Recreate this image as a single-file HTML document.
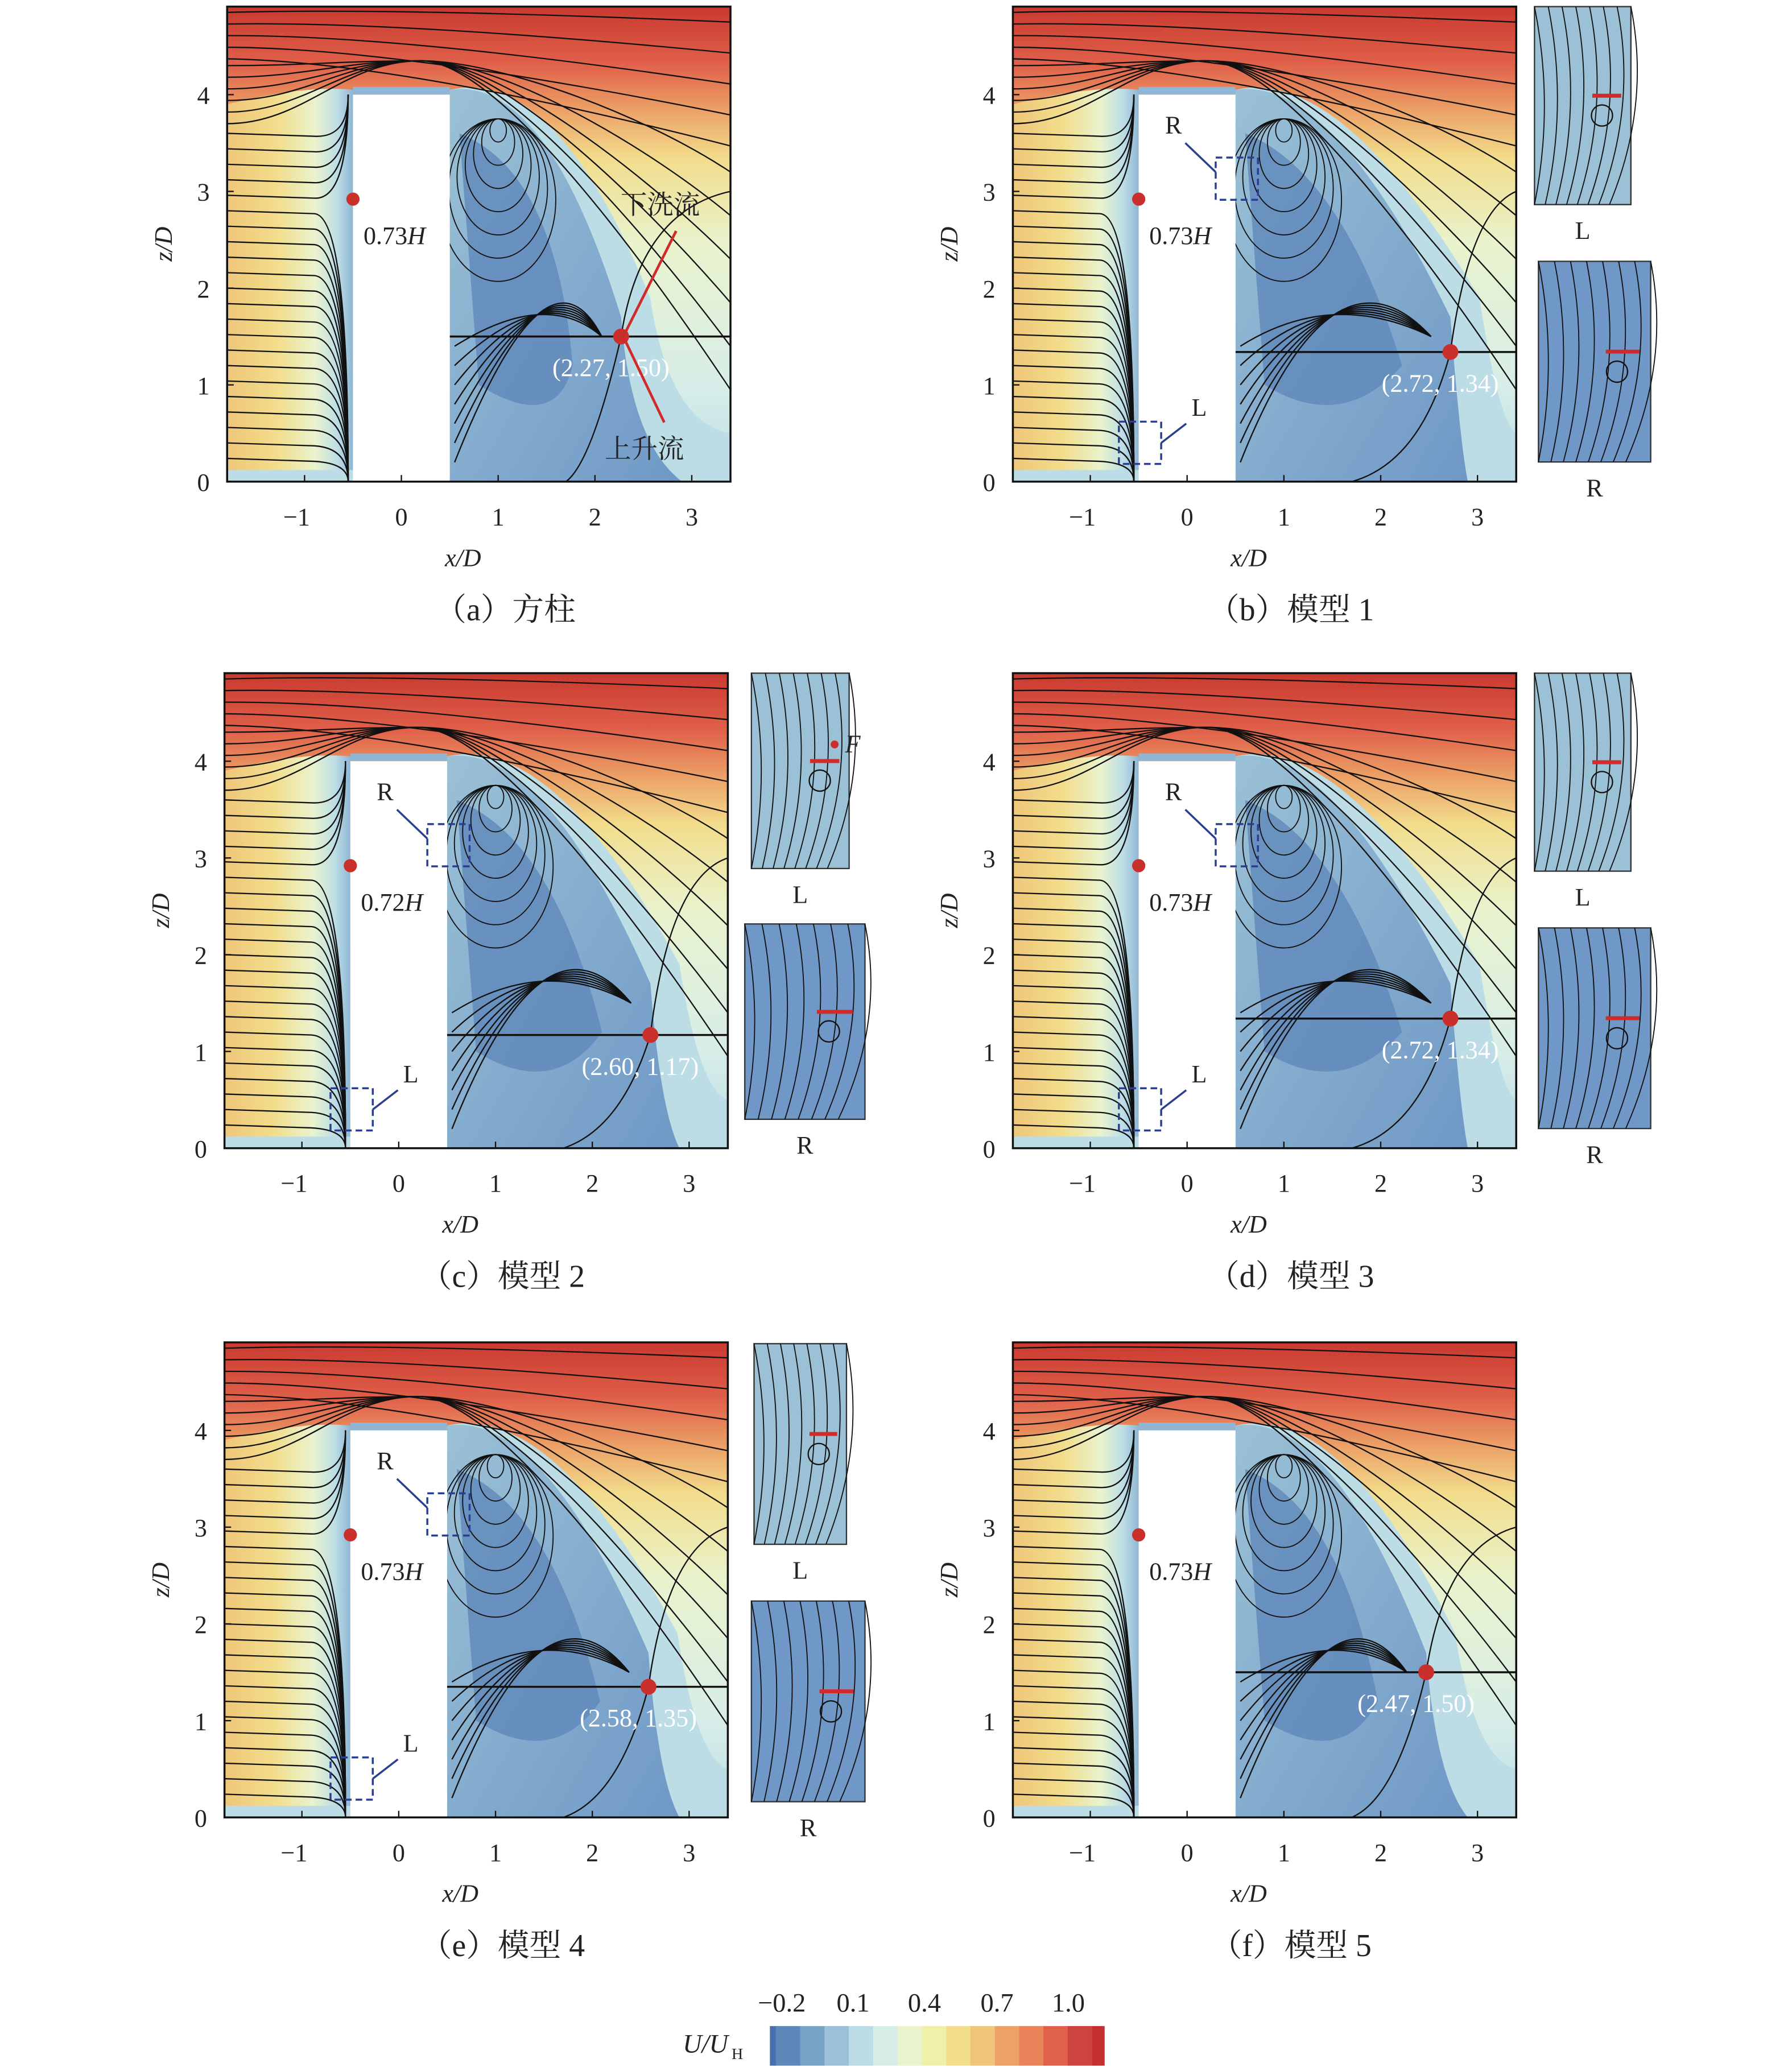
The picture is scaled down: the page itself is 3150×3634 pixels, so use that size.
<!DOCTYPE html>
<html><head><meta charset="utf-8"><style>
html,body{margin:0;padding:0;background:#fff}
svg{display:block}
text{font-family:"Liberation Serif","Noto Serif CJK SC",serif;fill:#222}
</style></head><body>
<svg id="s" width="3150" height="3634" viewBox="0 0 1357 1566" preserveAspectRatio="none" xmlns="http://www.w3.org/2000/svg">
<defs>
<linearGradient id="gv" x1="0" y1="0" x2="0" y2="1">
<stop offset="0" stop-color="#c9392f"/><stop offset="0.12" stop-color="#e0604a"/>
<stop offset="0.22" stop-color="#eca267"/><stop offset="0.32" stop-color="#f2dd8c"/>
<stop offset="0.5" stop-color="#e9f3cd"/><stop offset="0.8" stop-color="#d7ede8"/><stop offset="1" stop-color="#bcdde6"/>
</linearGradient>
<linearGradient id="gh" x1="0" y1="0" x2="1" y2="0">
<stop offset="0" stop-color="#efc679"/><stop offset="0.4" stop-color="#f2dd8c"/>
<stop offset="0.7" stop-color="#e9f3cd"/><stop offset="0.88" stop-color="#bcdde6"/><stop offset="1" stop-color="#8fb6d4"/>
</linearGradient>
<linearGradient id="gi" x1="0" y1="0" x2="1" y2="1">
<stop offset="0" stop-color="#9bc1d6"/><stop offset="1" stop-color="#6f98c6"/>
</linearGradient>
</defs>
<g id="root"></g>
</svg>
<script>
const NS="http://www.w3.org/2000/svg";const root=document.getElementById('root');
function el(t,a,p,txt){const e=document.createElementNS(NS,t);for(const k in a)e.setAttribute(k,a[k]);if(txt!==undefined)e.textContent=txt;(p||root).appendChild(e);return e;}
const S=73.3;
function panel(ox,oy,o){
 const g=el('g',{transform:`translate(${ox},${oy})`});
 const X=x=>(x+1.8)*S, Z=z=>(4.91-z)*S;
 const W=X(3.4),H=Z(0);
 const cp=el('clipPath',{id:'c'+ox+oy},g);el('rect',{x:0,y:0,width:W,height:H},cp);
 const f=el('g',{'clip-path':`url(#c${ox}${oy})`},g);
 el('rect',{x:0,y:0,width:W,height:H,fill:'url(#gv)'},f);
 el('path',{d:`M0 ${Z(3.9)} Q${X(-1)} ${Z(4.1)} ${X(-0.5)} ${Z(4.05)} L${X(-0.5)} ${H} L0 ${H}Z`,fill:'url(#gh)'},f);
 el('rect',{x:0,y:Z(0.12),width:X(-0.5),height:Z(0)-Z(0.12),fill:'#bcdde6'},f);
 const xr=o.xr;
 el('path',{d:`M${X(0.5)} ${Z(4.05)} Q${X(1.6)} ${Z(4.3)} ${X(xr+0.3)} ${Z(1.9)} Q${X(xr+0.5)} ${Z(0.6)} ${X(3.4)} ${Z(0.5)} L${X(3.4)} ${H} L${X(0.5)} ${H}Z`,fill:'#bcdde6'},f);
 el('path',{d:`M${X(0.5)} ${Z(4.05)} Q${X(1.5)} ${Z(4.2)} ${X(xr)} ${Z(1.7)} Q${X(xr+0.1)} ${Z(0.4)} ${X(2.9)} ${Z(0)} L${X(0.5)} ${H}Z`,fill:'url(#gi)'},f);
 el('path',{d:`M${X(0.6)} ${Z(3.6)} Q${X(1.6)} ${Z(3.2)} ${X(xr-0.5)} ${Z(1.2)} Q${X(1.6)} ${Z(0.5)} ${X(0.8)} ${Z(1)}Z`,fill:'#5f88ba',opacity:0.8},f);
 const sl={fill:'none',stroke:'#111','stroke-width':1};
 for(let i=0;i<5;i++){const z=4.85-i*0.12;el('path',{d:`M0 ${Z(z)} Q${X(0)} ${Z(z+0.05-i*0.02)} ${X(3.4)} ${Z(z-0.1-i*0.2)}`,...sl},f);}
 for(let i=0;i<6;i++){const z=4.3-i*0.12;el('path',{d:`M0 ${Z(z)} C${X(-1)} ${Z(z)} ${X(-0.6)} ${Z(4.35)} ${X(0.2)} ${Z(4.35)} S${X(2.5)} ${Z(3.8-i*0.3)} ${X(3.4)} ${Z(3.2-i*0.45)}`,...sl},f);}
 for(let i=0;i<22;i++){const z=3.6-i*0.16;el('path',{d:`M0 ${Z(z)} L${X(-0.9)} ${Z(z-0.03)} Q${X(-0.55)} ${Z(z-0.05)} ${X(-0.55)} ${Z(z<2.9?0:4.0)}`,...sl},f);}
 for(let i=1;i<8;i++){el('ellipse',{cx:X(1),cy:Z(3.75-i*0.12),rx:i*0.085*S,ry:i*0.12*S,...sl,'stroke-width':0.8},f);}
 for(let i=0;i<7;i++){el('path',{d:`M${X(0.55)} ${Z(0.2+i*0.2)} Q${X(1.5)} ${Z(2.6-i*0.1)} ${X(xr-0.2)} ${Z(1.5)} `,...sl},f);}
 el('path',{d:`M${X(0.5)} ${Z(o.yr)} L${X(3.4)} ${Z(o.yr)}`,...sl,'stroke-width':1.5},f);
 el('path',{d:`M${X(xr)} ${Z(o.yr)} Q${X(xr+0.2)} ${Z(2.8)} ${X(3.4)} ${Z(3)}`,...sl},f);
 el('path',{d:`M${X(xr)} ${Z(o.yr)} Q${X(xr-0.3)} ${Z(0.2)} ${X(1.7)} ${Z(0)}`,...sl},f);
 el('rect',{x:X(-0.5),y:Z(4.08),width:S,height:0.08*S,fill:'#8fb6d4'},f);
 el('rect',{x:X(-0.5),y:Z(4),width:S,height:4*S,fill:'#fff'},f);
 el('rect',{x:0,y:0,width:W,height:H,fill:'none',stroke:'#111','stroke-width':1.5},g);
 [-1,0,1,2,3].forEach(v=>{el('line',{x1:X(v),y1:H,x2:X(v),y2:H-5,stroke:'#111'},g);el('text',{x:X(v)+(v<0?-6:0),y:H+33,'font-size':19,'text-anchor':'middle'},g,v<0?'−1':v);});
 [0,1,2,3,4].forEach(v=>{el('line',{x1:0,y1:Z(v),x2:5,y2:Z(v),stroke:'#111'},g);el('text',{x:-18,y:Z(v)+7,'font-size':19,'text-anchor':'middle'},g,v);});
 el('text',{x:W/2-12,y:H+64,'font-size':19,'font-style':'italic','text-anchor':'middle'},g,'x/D');
 el('text',{transform:`translate(-42 ${H/2}) rotate(-90)`,'font-size':19,'font-style':'italic','text-anchor':'middle'},g,'z/D');
 el('circle',{cx:X(-0.5),cy:Z(2.92),r:5,fill:'#c9302c'},g);
 const t=el('text',{x:X(-0.5)+8,y:Z(2.92)+34,'font-size':19},g,o.h);
 el('tspan',{'font-style':'italic'},t,'H');
 el('circle',{cx:X(xr),cy:Z(o.yr),r:6,fill:'#c9302c'},g);
 el('text',{x:X(xr)-52,y:Z(o.yr)+30,'font-size':19,style:'fill:#fff'},g,`(${xr.toFixed(2)}, ${o.yr.toFixed(2)})`);
 el('text',{x:W/2+20,y:H+105,'font-size':24,'text-anchor':'middle'},g,o.cap);
 if(o.box){const bs={fill:'none',stroke:'#2a3f8f','stroke-dasharray':'5,3','stroke-width':1.5};
 el('rect',{x:X(-0.5)-15,y:Z(0.62),width:32,height:32,...bs},g);
 el('rect',{x:X(0.5)-15,y:Z(3.35),width:32,height:32,...bs},g);
 el('line',{x1:X(-0.5)+17,y1:Z(0.4),x2:X(-0.5)+36,y2:Z(0.6),stroke:'#2a3f8f','stroke-width':1.5},g);
 el('line',{x1:X(0.5)-15,y1:Z(3.2),x2:X(0.5)-38,y2:Z(3.5),stroke:'#2a3f8f','stroke-width':1.5},g);
 el('text',{x:X(-0.5)+40,y:Z(0.68),'font-size':19},g,'L');el('text',{x:X(-0.5)+20,y:Z(3.6),'font-size':19},g,'R');}
}
function inset(x,y,w,h,lab,dark){const g=el('g',{});
 el('rect',{x,y,width:w,height:h,fill:dark?'#6f98c6':'#9bc1d6',stroke:'#333','stroke-width':1},g);
 for(let i=0;i<8;i++)el('path',{d:`M${x+i*w/7} ${y} Q${x+i*w/7+15} ${y+h/2} ${x+i*w/9} ${y+h}`,fill:'none',stroke:'#111','stroke-width':0.8},g);
 el('circle',{cx:x+w*0.7,cy:y+h*0.55,r:8,fill:'none',stroke:'#111'},g);
 el('line',{x1:x+w*0.6,y1:y+h*0.45,x2:x+w*0.9,y2:y+h*0.45,stroke:'#d12a2a','stroke-width':3},g);
 el('text',{x:x+w/2,y:y+h+26,'font-size':19,'text-anchor':'middle'},g,lab);}
panel(172,5,{xr:2.27,yr:1.5,h:'0.73',cap:'（a）方柱'});
panel(767,5,{xr:2.72,yr:1.34,h:'0.73',cap:'（b）模型 1',box:1});
panel(170,510,{xr:2.60,yr:1.17,h:'0.72',cap:'（c）模型 2',box:1});
panel(767,510,{xr:2.72,yr:1.34,h:'0.73',cap:'（d）模型 3',box:1});
panel(170,1017,{xr:2.58,yr:1.35,h:'0.73',cap:'（e）模型 4',box:1});
panel(767,1017,{xr:2.47,yr:1.50,h:'0.73',cap:'（f）模型 5'});
inset(1162,5,73,150,'L');inset(1165,198,85,152,'R',1);
inset(569,510,74,148,'L');inset(564,700,91,148,'R',1);
inset(1162,510,73,150,'L');inset(1165,703,85,152,'R',1);
inset(571,1018,70,152,'L');inset(569,1213,86,152,'R',1);
el('text',{x:470,y:162,'font-size':20},root,'下洗流');el('text',{x:458,y:347,'font-size':20},root,'上升流');
el('line',{x1:472,y1:255,x2:512,y2:175,stroke:'#d12a2a','stroke-width':2});
el('line',{x1:472,y1:255,x2:503,y2:320,stroke:'#d12a2a','stroke-width':2});
el('text',{x:640,y:570,'font-size':19,'font-style':'italic'},root,'F');el('circle',{cx:632,cy:564,r:3,fill:'#c9302c'});
const cols=['#4a6faf','#5f88ba','#77a3c7','#9bc1d6','#bcdde6','#d7ede8','#e9f3cd','#f1f0a8','#f2dd8c','#efc679','#eca267','#e9835a','#e0604a','#cc4340','#c3302f'];
const wds=[10,41,41,41,41,41,41,41,41,41,41,41,41,41,20];let cx=583;const tw=wds.reduce((a,b)=>a+b);
cols.forEach((c,i)=>{const w=wds[i]*253/tw;el('rect',{x:cx,y:1535,width:w+0.5,height:30,fill:c});cx+=w;});
[['−0.2',592],['0.1',646],['0.4',700],['0.7',755],['1.0',809]].forEach(([t,x])=>el('text',{x,y:1524,'font-size':20,'text-anchor':'middle'},root,t));
el('text',{x:517,y:1555,'font-size':20,'font-style':'italic'},root,'U/U');el('text',{x:554,y:1560,'font-size':12},root,'H');
</script>
</body></html>
